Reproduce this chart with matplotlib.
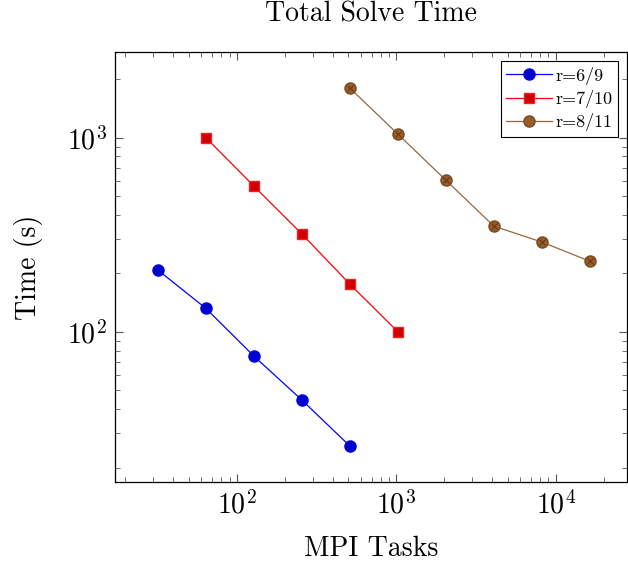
import numpy as np
import matplotlib
matplotlib.use('Agg')
import matplotlib.pyplot as plt
from matplotlib.ticker import LogLocator, NullFormatter

plt.rcParams['font.family'] = 'serif'
plt.rcParams['font.serif'] = ['cmr10', 'DejaVu Serif']
plt.rcParams['mathtext.fontset'] = 'cm'
plt.rcParams['axes.formatter.use_mathtext'] = True

# data
tasks_69 = [32, 64, 128, 256, 512]
time_69 = [208, 132, 75, 44.5, 25.8]
tasks_710 = [64, 128, 256, 512, 1024]
time_710 = [1000, 563, 319, 176, 100]
tasks_811 = [512, 1024, 2048, 4096, 8192, 16384]
time_811 = [1800, 1043, 604, 350, 290, 231]

fig = plt.figure(figsize=(6.28, 5.66), dpi=100)
ax = fig.add_axes([0.183, 0.148, 0.815, 0.760])

ax.plot(tasks_69, time_69, color='blue', lw=0.9, marker='o', ms=8,
        mfc='#0000cc', mec='#0000ee', label='r=6/9')
ax.plot(tasks_710, time_710, color='red', lw=0.9, marker='s', ms=7.5,
        mfc='#cc0000', mec='#ee2222', label='r=7/10')
ax.plot(tasks_811, time_811, color='#99663a', lw=0.9, marker='o', ms=8,
        mfc='#9a5c2a', mec='#7a4a22', label='r=8/11')
# cross inside the brown markers
ax.plot(tasks_811, time_811, ls='none', marker='x', ms=5, mew=0.7, color='#5a3818')

ax.set_xscale('log')
ax.set_yscale('log')
ax.set_xlim(17.2, 27900)
ax.set_ylim(16.8, 2760)

ax.xaxis.set_minor_locator(LogLocator(base=10, subs=np.arange(2, 10), numticks=20))
ax.yaxis.set_minor_locator(LogLocator(base=10, subs=np.arange(2, 10), numticks=20))
ax.xaxis.set_minor_formatter(NullFormatter())
ax.yaxis.set_minor_formatter(NullFormatter())
ax.tick_params(which='both', direction='in', top=True, right=True, color='#555555')
ax.tick_params(which='major', length=6, labelsize=20, pad=6)
ax.tick_params(which='minor', length=3.5)
for s in ax.spines.values():
    s.set_linewidth(0.9)

ax.set_xlabel('MPI Tasks', fontsize=20, labelpad=12)
ax.set_ylabel('Time (s)', fontsize=20, labelpad=17)
ax.set_title('Total Solve Time', fontsize=20, pad=22)

leg = ax.legend(loc='upper right', fontsize=13, fancybox=False, edgecolor='black',
                framealpha=1, handlelength=2.5, borderpad=0.3, labelspacing=0.3,
                handletextpad=0.2, borderaxespad=0.5)
leg.get_frame().set_linewidth(0.8)

fig.savefig('out.png', dpi=100)
